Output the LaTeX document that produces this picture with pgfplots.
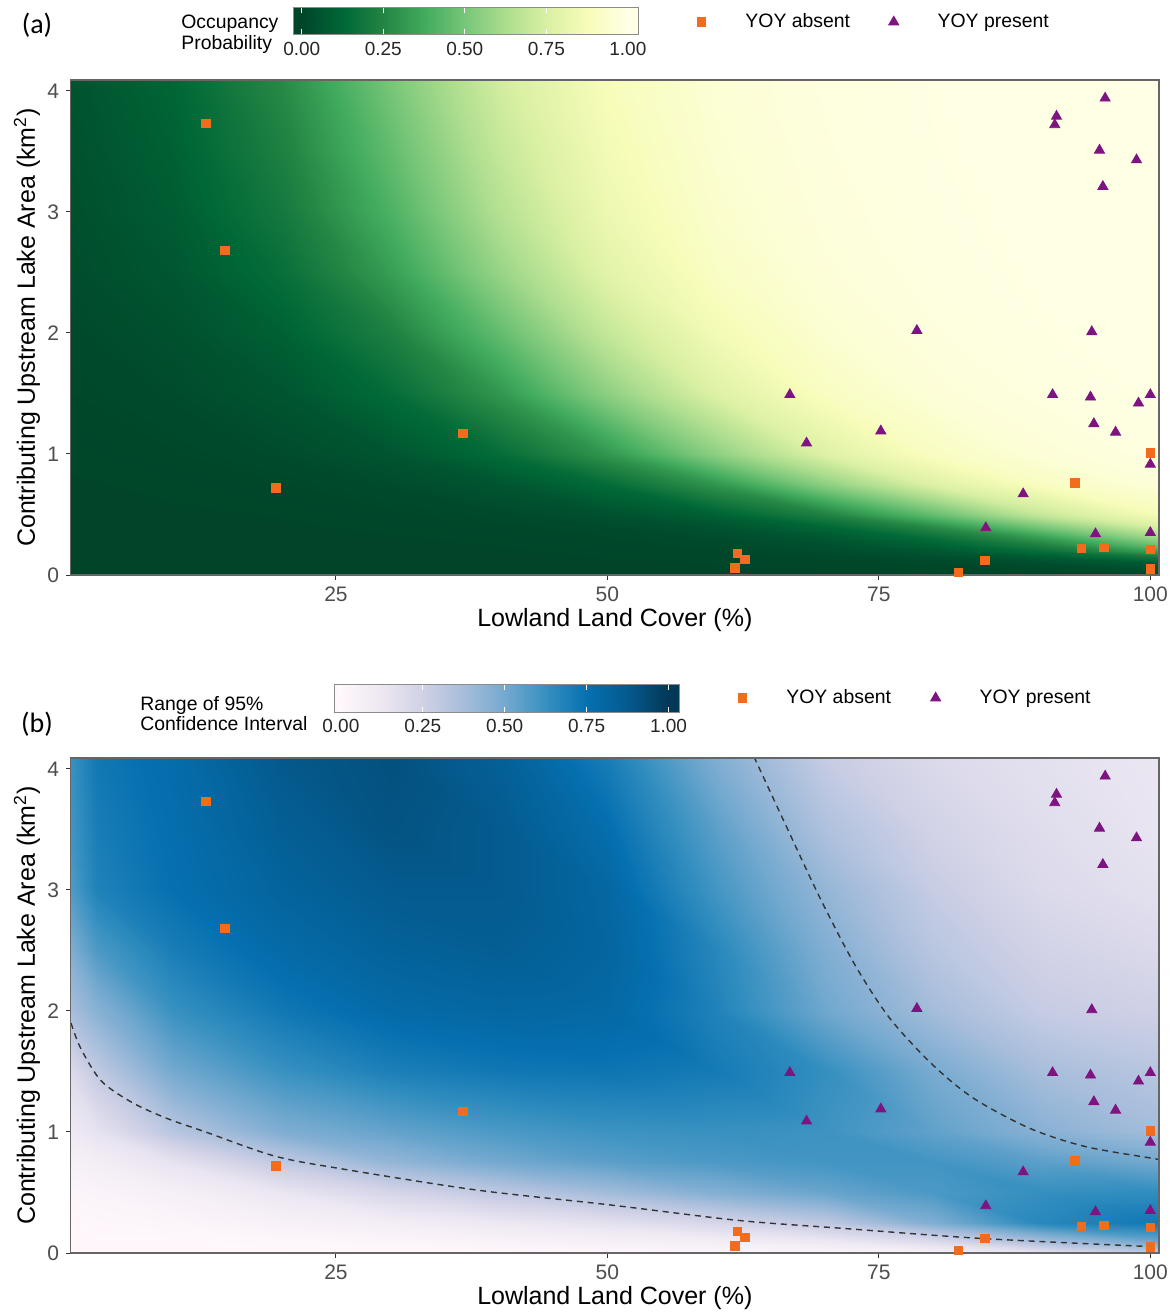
\documentclass[border=0pt]{standalone}
\usepackage{pgfplots}
\pgfplotsset{compat=1.18}
\usepackage{fontspec}
\setmainfont{Liberation Sans}
\newfontfamily\calibri{Carlito}
\definecolor{absent}{RGB}{243,108,30}
\definecolor{present}{RGB}{126,20,128}
\definecolor{tickgray}{RGB}{77,77,77}
\pgfplotsset{
 colormap={ylgnr}{rgb255=(0,69,41) rgb255=(0,104,55) rgb255=(35,132,67) rgb255=(65,171,93) rgb255=(120,198,121) rgb255=(173,221,142) rgb255=(217,240,163) rgb255=(247,252,185) rgb255=(255,255,229)},
 colormap={pubu}{rgb255=(255,247,251) rgb255=(236,231,242) rgb255=(208,209,230) rgb255=(166,189,219) rgb255=(116,169,207) rgb255=(54,144,192) rgb255=(5,112,176) rgb255=(4,90,141) rgb255=(2,56,88)},
 mainax/.style={
  scale only axis, width=544.15pt, height=247.5pt,
  xmin=0.57, xmax=100.8, ymin=0, ymax=4.09,
  xtick={25,50,75,100}, ytick={0,1,2,3,4},
  tick pos=left, tick align=outside, major tick length=2.25pt,
  tick style={draw=black!80, line width=0.5pt},
  axis line style={draw=black!60, line width=0.6pt},
  /pgf/number format/assume math mode=true,
  ticklabel style={font=\fontsize{10.5}{12}\selectfont, text=tickgray},
  xlabel={Lowland Land Cover (\%)},
  ylabel={Contributing Upstream Lake Area (km\textsuperscript{2})},
  label style={font=\fontsize{12.5}{14}\selectfont},
  xlabel style={at={(axis description cs:0.5,0)}, anchor=center, yshift=-22.5pt},
  ylabel style={at={(axis description cs:-0.0402,0.5)}, anchor=center},
  point meta min=0, point meta max=1,
  legend columns=2,
  legend style={draw=none, fill=none, inner sep=0pt, font=\fontsize{9.7}{11}\selectfont},
  legend cell align=left,
  legend image code/.code={\path[draw=none,fill=none] (0pt,0pt) -- (28.5pt,0pt); \draw[##1] plot coordinates {(0.3cm,0cm)};},
  axis on top,
 },
 cbax/.style={
  anchor=south west, scale only axis, width=172.5pt,
  xmin=-0.026, xmax=1.032, ymin=0, ymax=1, ytick=\empty,
  xtick={0,0.25,0.5,0.75,1}, xticklabels={0.00,0.25,0.50,0.75,1.00},
  xtick pos=both, xticklabel pos=lower, tick align=inside, major tick length=2.8pt,
  tick style={draw=white, line width=0.6pt},
  axis line style={draw=black!45, line width=0.5pt},
  xticklabel style={font=\fontsize{9.5}{11}\selectfont, text=black!85},
  point meta min=0, point meta max=1, axis on top,
 },
}
\begin{document}
\begin{tikzpicture}
\useasboundingbox (0,0) rectangle (588pt,-657pt);
% ---------------- panel (a) ----------------
\begin{axis}[mainax, at={(35.35pt,-287.5pt)}, anchor=south west, colormap name=ylgnr,
  legend style={at={(axis description cs:0.5636,1.1172)}, anchor=west,
    /tikz/every even column/.append style={column sep=11.3pt}}]
\addplot[surf, shader=interp, mesh/cols=11, point meta=explicit, forget plot] coordinates {
(0,0.015)[0] (10,0.015)[0] (20,0.015)[0] (30,0.015)[0] (40,0.015)[0] (50,0.015)[0] (60,0.015)[0] (70,0.015)[0] (80,0.015)[0] (90,0.015)[0] (101,0.015)[0.01]
(0,0.1)[0] (10,0.1)[0] (20,0.1)[0] (30,0.1)[0] (40,0.1)[0] (50,0.1)[0] (60,0.1)[0.002] (70,0.1)[0.004] (80,0.1)[0.011] (90,0.1)[0.029] (101,0.1)[0.083]
(0,0.15)[0] (10,0.15)[0] (20,0.15)[0] (30,0.15)[0] (40,0.15)[0] (50,0.15)[0.002] (60,0.15)[0.004] (70,0.15)[0.011] (80,0.15)[0.029] (90,0.15)[0.076] (101,0.15)[0.198]
(0,0.2)[0] (10,0.2)[0] (20,0.2)[0] (30,0.2)[0] (40,0.2)[0.001] (50,0.2)[0.003] (60,0.2)[0.009] (70,0.2)[0.024] (80,0.2)[0.063] (90,0.2)[0.154] (101,0.2)[0.354]
(0,0.25)[0] (10,0.25)[0] (20,0.25)[0] (30,0.25)[0] (40,0.25)[0.002] (50,0.25)[0.006] (60,0.25)[0.015] (70,0.25)[0.039] (80,0.25)[0.1] (90,0.25)[0.231] (101,0.25)[0.475]
(0,0.3)[0] (10,0.3)[0] (20,0.3)[0] (30,0.3)[0.001] (40,0.3)[0.003] (50,0.3)[0.008] (60,0.3)[0.022] (70,0.3)[0.057] (80,0.3)[0.142] (90,0.3)[0.31] (101,0.3)[0.574]
(0,0.4)[0] (10,0.4)[0] (20,0.4)[0.001] (30,0.4)[0.003] (40,0.4)[0.007] (50,0.4)[0.018] (60,0.4)[0.047] (70,0.4)[0.119] (80,0.4)[0.269] (90,0.4)[0.5] (101,0.4)[0.75]
(0,0.5)[0] (10,0.5)[0.001] (20,0.5)[0.002] (30,0.5)[0.006] (40,0.5)[0.015] (50,0.5)[0.039] (60,0.5)[0.1] (70,0.5)[0.231] (80,0.5)[0.45] (90,0.5)[0.69] (101,0.5)[0.87]
(0,0.75)[0.001] (10,0.75)[0.003] (20,0.75)[0.008] (30,0.75)[0.022] (40,0.75)[0.057] (50,0.75)[0.142] (60,0.75)[0.31] (70,0.75)[0.55] (80,0.75)[0.769] (90,0.75)[0.9] (101,0.75)[0.964]
(0,1)[0.003] (10,1)[0.008] (20,1)[0.022] (30,1)[0.057] (40,1)[0.142] (50,1)[0.31] (60,1)[0.55] (70,1)[0.769] (80,1)[0.9] (90,1)[0.961] (101,1)[0.987]
(0,1.5)[0.008] (10,1.5)[0.022] (20,1.5)[0.057] (30,1.5)[0.142] (40,1.5)[0.31] (50,1.5)[0.55] (60,1.5)[0.769] (70,1.5)[0.9] (80,1.5)[0.961] (90,1.5)[0.985] (101,1.5)[0.995]
(0,2)[0.015] (10,2)[0.039] (20,2)[0.1] (30,2)[0.231] (40,2)[0.45] (50,2)[0.69] (60,2)[0.858] (70,2)[0.943] (80,2)[0.978] (90,2)[0.992] (101,2)[0.997]
(0,2.5)[0.024] (10,2.5)[0.063] (20,2.5)[0.154] (30,2.5)[0.332] (40,2.5)[0.574] (50,2.5)[0.786] (60,2.5)[0.909] (70,2.5)[0.964] (80,2.5)[0.987] (90,2.5)[0.995] (101,2.5)[0.998]
(0,3)[0.032] (10,3)[0.083] (20,3)[0.198] (30,3)[0.401] (40,3)[0.646] (50,3)[0.832] (60,3)[0.931] (70,3)[0.973] (80,3)[0.99] (90,3)[0.996] (101,3)[0.999]
(0,3.5)[0.039] (10,3.5)[0.1] (20,3.5)[0.231] (30,3.5)[0.45] (40,3.5)[0.69] (50,3.5)[0.858] (60,3.5)[0.943] (70,3.5)[0.978] (80,3.5)[0.992] (90,3.5)[0.997] (101,3.5)[0.999]
(0,4.1)[0.047] (10,4.1)[0.119] (20,4.1)[0.269] (30,4.1)[0.5] (40,4.1)[0.731] (50,4.1)[0.881] (60,4.1)[0.953] (70,4.1)[0.982] (80,4.1)[0.993] (90,4.1)[0.998] (101,4.1)[0.999]
};
\addplot[only marks, mark=square*, mark size=2.1pt, color=absent] coordinates {
(13.03,3.73) (14.78,2.68) (19.48,0.72) (36.7,1.17) (61.95,0.18) (62.66,0.13) (61.74,0.06) (82.34,0.02) (84.76,0.12) (93.05,0.76) (93.67,0.22) (95.72,0.23) (100.02,1.01) (100.02,0.21) (100.02,0.05)};
\addlegendentry{YOY absent}
\addplot[only marks, mark=triangle*, mark size=2.9pt, color=present] coordinates {
(95.84,3.94) (91.36,3.79) (91.2,3.72) (95.32,3.51) (98.73,3.43) (95.63,3.21) (78.5,2.02) (94.61,2.01) (66.8,1.49) (91.0,1.49) (94.49,1.47) (100.0,1.49) (98.91,1.42) (75.18,1.19) (94.8,1.25) (96.8,1.18) (68.34,1.09) (100.0,0.915) (88.29,0.67) (84.85,0.39) (94.95,0.34) (100.0,0.35)};
\addlegendentry{YOY present}
\end{axis}
\begin{axis}[cbax, at={(146.65pt,-17.35pt)}, height=13.85pt, colormap name=ylgnr]
\addplot[surf, shader=interp, mesh/cols=11, point meta=explicit] coordinates {
(-0.03,0)[0] (0,0)[0] (0.125,0)[0.125] (0.25,0)[0.25] (0.375,0)[0.375] (0.5,0)[0.5] (0.625,0)[0.625] (0.75,0)[0.75] (0.875,0)[0.875] (1,0)[1] (1.04,0)[1]
(-0.03,1)[0] (0,1)[0] (0.125,1)[0.125] (0.25,1)[0.25] (0.375,1)[0.375] (0.5,1)[0.5] (0.625,1)[0.625] (0.75,1)[0.75] (0.875,1)[0.875] (1,1)[1] (1.04,1)[1]};
\end{axis}
\node[font=\calibri\fontsize{14}{16}\selectfont, inner sep=0pt] at (18.5pt,-12.5pt) {(a)};
\node[anchor=west, align=left, font=\fontsize{9.7}{10.3}\selectfont, inner sep=0pt] at (90.5pt,-17pt) {Occupancy\\Probability};
% ---------------- panel (b) ----------------
\begin{axis}[mainax, at={(35.35pt,-626.5pt)}, anchor=south west, colormap name=pubu,
  legend style={at={(axis description cs:0.6012,1.1212)}, anchor=west,
    /tikz/every even column/.append style={column sep=11.8pt}}]
\addplot[surf, shader=interp, mesh/cols=12, point meta=explicit, forget plot] coordinates {
(0,0)[0] (3,0)[0] (10,0)[0] (20,0)[0] (30,0)[0] (40,0)[0] (50,0)[0.01] (60,0)[0.02] (70,0)[0.03] (80,0)[0.05] (90,0)[0.15] (101,0)[0.3]
(0,0.1)[0] (3,0.1)[0] (10,0.1)[0] (20,0.1)[0.01] (30,0.1)[0.02] (40,0.1)[0.04] (50,0.1)[0.06] (60,0.1)[0.08] (70,0.1)[0.12] (80,0.1)[0.2] (90,0.1)[0.38] (101,0.1)[0.52]
(0,0.25)[0] (3,0.25)[0.01] (10,0.25)[0.02] (20,0.25)[0.05] (30,0.25)[0.08] (40,0.25)[0.12] (50,0.25)[0.16] (60,0.25)[0.22] (70,0.25)[0.3] (80,0.25)[0.47] (90,0.25)[0.66] (101,0.25)[0.72]
(0,0.5)[0.02] (3,0.5)[0.03] (10,0.5)[0.06] (20,0.5)[0.13] (30,0.5)[0.22] (40,0.5)[0.3] (50,0.5)[0.38] (60,0.5)[0.46] (70,0.5)[0.52] (80,0.5)[0.58] (90,0.5)[0.63] (101,0.5)[0.64]
(0,0.75)[0.05] (3,0.75)[0.08] (10,0.75)[0.15] (20,0.75)[0.3] (30,0.75)[0.42] (40,0.75)[0.5] (50,0.75)[0.55] (60,0.75)[0.58] (70,0.75)[0.6] (80,0.75)[0.6] (90,0.75)[0.55] (101,0.75)[0.5]
(0,1)[0.1] (3,1)[0.15] (10,1)[0.32] (20,1)[0.47] (30,1)[0.53] (40,1)[0.58] (50,1)[0.61] (60,1)[0.62] (70,1)[0.61] (80,1)[0.54] (90,1)[0.45] (101,1)[0.38]
(0,1.5)[0.18] (3,1.5)[0.3] (10,1.5)[0.5] (20,1.5)[0.62] (30,1.5)[0.69] (40,1.5)[0.72] (50,1.5)[0.73] (60,1.5)[0.71] (70,1.5)[0.63] (80,1.5)[0.49] (90,1.5)[0.37] (101,1.5)[0.32]
(0,2)[0.35] (3,2)[0.45] (10,2)[0.62] (20,2)[0.72] (30,2)[0.78] (40,2)[0.8] (50,2)[0.79] (60,2)[0.68] (70,2)[0.51] (80,2)[0.38] (90,2)[0.28] (101,2)[0.25]
(0,2.5)[0.45] (3,2.5)[0.58] (10,2.5)[0.7] (20,2.5)[0.78] (30,2.5)[0.83] (40,2.5)[0.85] (50,2.5)[0.81] (60,2.5)[0.66] (70,2.5)[0.47] (80,2.5)[0.32] (90,2.5)[0.24] (101,2.5)[0.2]
(0,3)[0.55] (3,3)[0.68] (10,3)[0.75] (20,3)[0.82] (30,3)[0.87] (40,3)[0.87] (50,3)[0.8] (60,3)[0.6] (70,3)[0.42] (80,3)[0.28] (90,3)[0.2] (101,3)[0.16]
(0,3.5)[0.58] (3,3.5)[0.7] (10,3.5)[0.76] (20,3.5)[0.85] (30,3.5)[0.9] (40,3.5)[0.87] (50,3.5)[0.76] (60,3.5)[0.55] (70,3.5)[0.35] (80,3.5)[0.24] (90,3.5)[0.18] (101,3.5)[0.14]
(0,4.1)[0.6] (3,4.1)[0.72] (10,4.1)[0.77] (20,4.1)[0.88] (30,4.1)[0.91] (40,4.1)[0.84] (50,4.1)[0.7] (60,4.1)[0.47] (70,4.1)[0.28] (80,4.1)[0.2] (90,4.1)[0.16] (101,4.1)[0.13]
};
\addplot[smooth, black!80, line width=0.7pt, dash pattern=on 3pt off 2.4pt, forget plot] coordinates {
(0.6,1.9) (1.5,1.69) (3.4,1.42) (6.3,1.24) (9.5,1.11) (13,1.0) (19.4,0.8) (25.9,0.69) (38,0.52) (50,0.4) (62,0.27) (71.5,0.205) (84.5,0.12) (100.8,0.05)};
\addplot[smooth, black!80, line width=0.7pt, dash pattern=on 3pt off 2.4pt, forget plot] coordinates {
(63.5,4.1) (66.4,3.54) (69.6,2.93) (72.8,2.38) (76.0,1.94) (79.9,1.56) (83.7,1.28) (88.9,1.03) (94.0,0.88) (100,0.785) (101,0.77)};
\addplot[only marks, mark=square*, mark size=2.1pt, color=absent] coordinates {
(13.03,3.73) (14.78,2.68) (19.48,0.72) (36.7,1.17) (61.95,0.18) (62.66,0.13) (61.74,0.06) (82.34,0.02) (84.76,0.12) (93.05,0.76) (93.67,0.22) (95.72,0.23) (100.02,1.01) (100.02,0.21) (100.02,0.05)};
\addlegendentry{YOY absent}
\addplot[only marks, mark=triangle*, mark size=2.9pt, color=present] coordinates {
(95.84,3.94) (91.36,3.79) (91.2,3.72) (95.32,3.51) (98.73,3.43) (95.63,3.21) (78.5,2.02) (94.61,2.01) (66.8,1.49) (91.0,1.49) (94.49,1.47) (100.0,1.49) (98.91,1.42) (75.18,1.19) (94.8,1.25) (96.8,1.18) (68.34,1.09) (100.0,0.915) (88.29,0.67) (84.85,0.39) (94.95,0.34) (100.0,0.35)};
\addlegendentry{YOY present}
\end{axis}
\begin{axis}[cbax, at={(167.15pt,-356.15pt)}, height=14.15pt, xmin=-0.02, xmax=1.033, colormap name=pubu]
\addplot[surf, shader=interp, mesh/cols=11, point meta=explicit] coordinates {
(-0.03,0)[0] (0,0)[0] (0.125,0)[0.125] (0.25,0)[0.25] (0.375,0)[0.375] (0.5,0)[0.5] (0.625,0)[0.625] (0.75,0)[0.75] (0.875,0)[0.875] (1,0)[1] (1.04,0)[1]
(-0.03,1)[0] (0,1)[0] (0.125,1)[0.125] (0.25,1)[0.25] (0.375,1)[0.375] (0.5,1)[0.5] (0.625,1)[0.625] (0.75,1)[0.75] (0.875,1)[0.875] (1,1)[1] (1.04,1)[1]};
\end{axis}
\node[font=\calibri\fontsize{14}{16}\selectfont, inner sep=0pt] at (18.5pt,-362pt) {(b)};
\node[anchor=west, align=left, font=\fontsize{9.7}{10.3}\selectfont, inner sep=0pt] at (70pt,-356.75pt) {Range of 95\%\\Confidence Interval};
\end{tikzpicture}
\end{document}
